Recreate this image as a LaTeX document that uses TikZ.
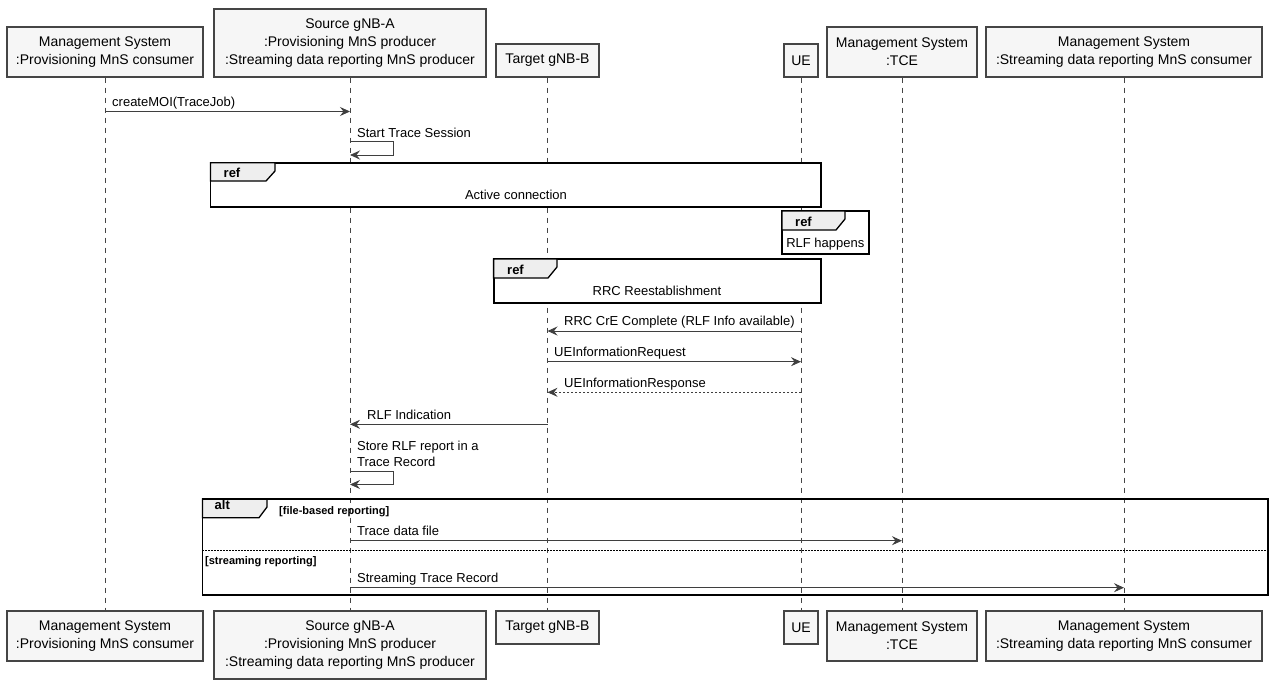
\documentclass[tikz,border=0pt]{standalone}
\usepackage{fontspec}
\setmainfont{Liberation Sans}
\usetikzlibrary{arrows.meta}

\definecolor{boxfill}{HTML}{F6F6F6}
\definecolor{boxline}{HTML}{454545}
\definecolor{tabfill}{HTML}{EEEEEE}
\definecolor{msgline}{HTML}{3F3F3F}

\tikzset{
  partbox/.style={draw=boxline, fill=boxfill, line width=1.3pt, align=center,
    inner sep=0pt, font=\fontsize{14}{18}\selectfont},
  lifeline/.style={draw=boxline, line width=0.8pt, dash pattern=on 5pt off 5pt},
  msg/.style={draw=msgline, line width=0.9pt,
    -{Stealth[length=10pt,width=9pt,inset=3.5pt]}},
  reply/.style={msg, dash pattern=on 2pt off 2pt},
  msgtext/.style={font=\fontsize{13}{16}\selectfont, inner sep=0pt,
    anchor=base west, align=left},
  reftext/.style={font=\fontsize{13}{16}\selectfont, inner sep=0pt},
  frame/.style={draw=black, line width=1.8pt},
  tab/.style={draw=black, fill=tabfill, line width=1.3pt},
  tabtext/.style={font=\bfseries\fontsize{13}{16}\selectfont, inner sep=0pt,
    anchor=base west},
  cond/.style={font=\bfseries\fontsize{11}{13}\selectfont, inner sep=0pt,
    anchor=base west},
}

\begin{document}
\begin{tikzpicture}[x=1pt,y=-1pt]

\useasboundingbox (0,0) rectangle (1270,680);

% Participants (top)
\node[partbox, minimum width=196pt, minimum height=50pt] (mcT) at (105,52)
  {Management System\\:Provisioning MnS consumer};
\node[partbox, minimum width=272pt, minimum height=68pt] (srcT) at (350,43)
  {Source gNB-A\\:Provisioning MnS producer\\:Streaming data reporting MnS producer};
\node[partbox, minimum width=103pt, minimum height=33pt] (tgtT) at (547.5,60.5)
  {Target gNB-B};
\node[partbox, minimum width=34pt, minimum height=33pt] (ueT) at (801,60.5)
  {UE};
\node[partbox, minimum width=150pt, minimum height=50pt] (tceT) at (902,52)
  {Management System\\:TCE};
\node[partbox, minimum width=276pt, minimum height=50pt] (scT) at (1124,52)
  {Management System\\:Streaming data reporting MnS consumer};

% Participants (bottom)
\node[partbox, minimum width=196pt, minimum height=50pt] (mcB) at (105,636)
  {Management System\\:Provisioning MnS consumer};
\node[partbox, minimum width=272pt, minimum height=68pt] (srcB) at (350,645)
  {Source gNB-A\\:Provisioning MnS producer\\:Streaming data reporting MnS producer};
\node[partbox, minimum width=103pt, minimum height=33pt] (tgtB) at (547.5,627.5)
  {Target gNB-B};
\node[partbox, minimum width=34pt, minimum height=33pt] (ueB) at (801,627.5)
  {UE};
\node[partbox, minimum width=150pt, minimum height=50pt] (tceB) at (902,636)
  {Management System\\:TCE};
\node[partbox, minimum width=276pt, minimum height=50pt] (scB) at (1124,636)
  {Management System\\:Streaming data reporting MnS consumer};

% Lifelines
\draw[lifeline] (mcT.south) -- (mcB.north);
\draw[lifeline] (srcT.south) -- (srcB.north);
\draw[lifeline] (tgtT.south) -- (tgtB.north);
\draw[lifeline] (ueT.south) -- (ueB.north);
\draw[lifeline] (tceT.south) -- (tceB.north);
\draw[lifeline] (scT.south) -- (scB.north);

% Rows of the messages
\coordinate (r1) at (0,111.5);
\coordinate (r2) at (0,141.7);
\coordinate (r3) at (0,155);
\coordinate (r4) at (0,331);
\coordinate (r5) at (0,361.7);
\coordinate (r6) at (0,392.3);
\coordinate (r7) at (0,424.3);
\coordinate (r8) at (0,471.7);
\coordinate (r9) at (0,484.5);
\coordinate (r10) at (0,540.7);
\coordinate (r11) at (0,587.7);

% createMOI
\draw[msg] (mcT |- r1) -- (srcT |- r1);
\node[msgtext] (l1) at (112,106) {createMOI(TraceJob)};

% Start Trace Session
\draw[msg] (srcT |- r2) -- ++(43.6,0) |- (srcT |- r3);
\node[msgtext] (l2) at (357,137.5) {Start Trace Session};

% ref Active connection
\draw[frame, fill=white] (210.5,162.7) rectangle (821,206.7);
\draw[tab] (210.5,162.7) -- (275,162.7) -- (275,171) -- (266,181)
  -- (210.5,181) -- cycle;
\node[tabtext] (ref1) at (223.5,177.5) {ref};
\node[reftext] (act) at (516,195) {Active connection};

% ref RLF happens
\draw[frame, fill=white] (782,211) rectangle (868.6,254);
\draw[tab] (782,211) -- (845,211) -- (845,219) -- (836,230)
  -- (782,230) -- cycle;
\node[tabtext] (ref2) at (795,226) {ref};
\node[reftext] (rlf) at (825.3,244) {RLF happens};

% ref RRC Reestablishment
\draw[frame, fill=white] (493.6,259) rectangle (821,303);
\draw[tab] (493.6,259) -- (557,259) -- (557,267) -- (548,278)
  -- (493.6,278) -- cycle;
\node[tabtext] (ref3) at (507,274) {ref};
\node[reftext] (rrc) at (657,291) {RRC Reestablishment};

% RRC messages
\draw[msg] (ueT |- r4) -- (tgtT |- r4);
\node[msgtext] (l4) at (564,325.5) {RRC CrE Complete (RLF Info available)};

\draw[msg] (tgtT |- r5) -- (ueT |- r5);
\node[msgtext] (l5) at (554,356) {UEInformationRequest};

\draw[reply] (ueT |- r6) -- (tgtT |- r6);
\node[msgtext] (l6) at (564,387) {UEInformationResponse};

% RLF Indication
\draw[msg] (tgtT |- r7) -- (srcT |- r7);
\node[msgtext] (l7) at (367,419) {RLF Indication};

% Store RLF report
\draw[msg] (srcT |- r8) -- ++(43.6,0) |- (srcT |- r9);
\node[msgtext] (l8) at (357,466) {Store RLF report in a\\Trace Record};

% alt
\draw[tab] (202.4,499) -- (267,499) -- (267,507) -- (259,517.7)
  -- (202.4,517.7) -- cycle;
\draw[frame] (202.4,499) rectangle (1268,595);
\node[tabtext] (alt) at (214.5,509.5) {alt};
\node[cond] (c1) at (279,514.5) {[file-based reporting]};
\draw[line width=0.6pt, dash pattern=on 1.5pt off 1.5pt]
  (202.4,550) -- (1268,550);
\node[cond] (c2) at (205,564.5) {[streaming reporting]};

\draw[msg] (srcT |- r10) -- (tceT |- r10);
\node[msgtext] (l10) at (357,535.5) {Trace data file};

\draw[msg] (srcT |- r11) -- (scT |- r11);
\node[msgtext] (l11) at (357,582) {Streaming Trace Record};

\end{tikzpicture}
\end{document}
